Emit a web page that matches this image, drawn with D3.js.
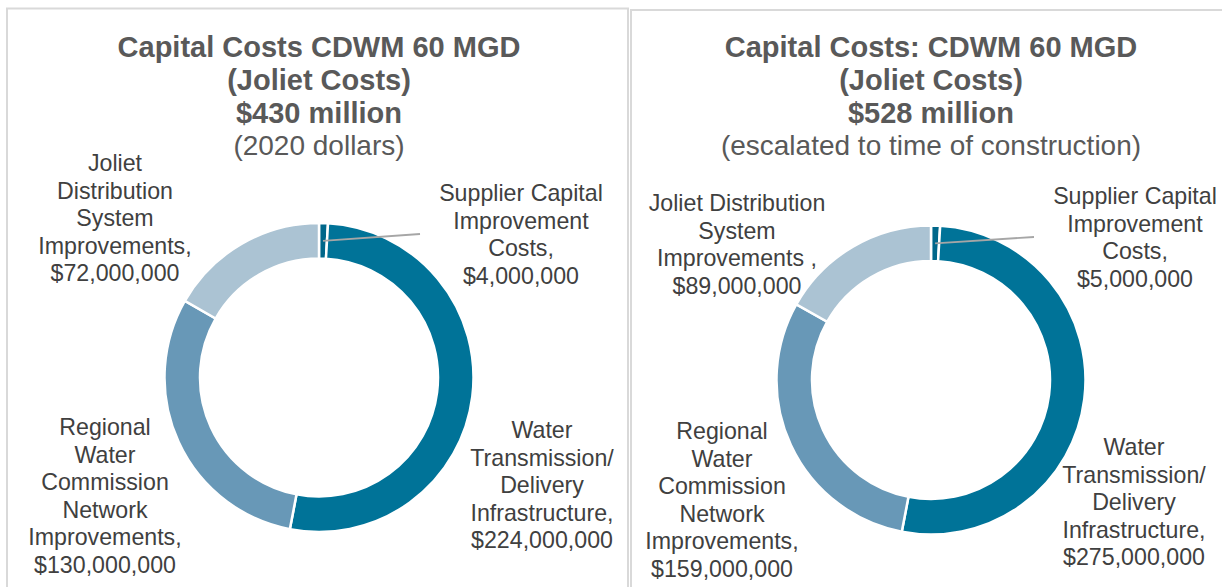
<!DOCTYPE html>
<html>
<head>
<meta charset="utf-8">
<script src="https://cdn.jsdelivr.net/npm/d3@7"></script>
<style>
  body { margin: 0; background: #fff; }
  svg { display: block; font-family: Arial, "Liberation Sans", sans-serif; }
</style>
</head>
<body>
<div id="chart"></div>
<script>
// categories, in pie order starting at 12 o'clock
var categories = ["Supplier", "Water", "Regional", "Joliet"];
var costs2020 = [4000000, 224000000, 130000000, 72000000];
var costsEscalated = [5000000, 275000000, 159000000, 89000000];

var titles2020 = ["Capital Costs CDWM 60 MGD", "(Joliet Costs)", "$430 million", "(2020 dollars)"];
var titlesEscalated = ["Capital Costs: CDWM 60 MGD", "(Joliet Costs)", "$528 million", "(escalated to time of construction)"];

var labels2020 = [
    ["Supplier Capital", "Improvement", "Costs,", "$4,000,000"],
    ["Water", "Transmission/", "Delivery", "Infrastructure,", "$224,000,000"],
    ["Regional", "Water", "Commission", "Network", "Improvements,", "$130,000,000"],
    ["Joliet", "Distribution", "System", "Improvements,", "$72,000,000"]
];
var labelsEscalated = [
    ["Supplier Capital", "Improvement", "Costs,", "$5,000,000"],
    ["Water", "Transmission/", "Delivery", "Infrastructure,", "$275,000,000"],
    ["Regional", "Water", "Commission", "Network", "Improvements,", "$159,000,000"],
    ["Joliet Distribution", "System", "Improvements ,", "$89,000,000"]
];

var colors = {Supplier: "#00678a", Water: "#007398", Regional: "#6898b7", Joliet: "#abc3d3"};

var width = 1222, height = 587;
var svg = d3.select("#chart").append("svg")
    .attr("width", width)
    .attr("height", height);

// panel frames
svg.append("rect").attr("x", 7).attr("y", 8.5).attr("width", 621).attr("height", 600)
    .attr("fill", "none").attr("stroke", "#d9d9d9").attr("stroke-width", 2);
svg.append("rect").attr("x", 631).attr("y", 10).attr("width", 600).attr("height", 600)
    .attr("fill", "none").attr("stroke", "#d9d9d9").attr("stroke-width", 2);

var panels = [
    {values: costs2020, titles: titles2020, labels: labels2020, cx: 319, cy: 377.5,
     labelPos: [[521, 193], [542, 430], [105, 427], [115, 163]], leaderEnd: [420, 234]},
    {values: costsEscalated, titles: titlesEscalated, labels: labelsEscalated, cx: 931, cy: 380,
     labelPos: [[1135, 196], [1134, 447], [722, 431], [737, 203]], leaderEnd: [1034, 237]}
];

var outerR = 154.5, innerR = 119;
var pie = d3.pie().sort(null).value(function(d) { return d.value; });
var arc = d3.arc().innerRadius(innerR).outerRadius(outerR);
var lineH = 27.6;

panels.forEach(function(p) {
    var data = categories.map(function(c, i) { return {key: c, value: p.values[i]}; });
    var arcs = pie(data);

    var g = svg.append("g").attr("transform", "translate(" + p.cx + "," + p.cy + ")");
    g.selectAll("path").data(arcs).enter().append("path")
        .attr("d", arc)
        .attr("fill", function(d) { return colors[d.data.key]; })
        .attr("stroke", "#fff")
        .attr("stroke-width", 2.5);

    // title block
    var t = svg.append("text")
        .attr("text-anchor", "middle")
        .attr("fill", "#595959");
    p.titles.forEach(function(line, i) {
        t.append("tspan")
            .attr("x", p.cx)
            .attr("y", 57 + i * 32.8)
            .style("font-size", i < 3 ? "29px" : "28px")
            .style("font-weight", i < 3 ? "bold" : "normal")
            .text(line);
    });

    // leader line for the thin supplier slice
    var a0 = arcs[0];
    var mid = (a0.startAngle + a0.endAngle) / 2, rm = (innerR + outerR) / 2;
    svg.append("line")
        .attr("x1", p.cx + rm * Math.sin(mid))
        .attr("y1", p.cy - rm * Math.cos(mid))
        .attr("x2", p.leaderEnd[0])
        .attr("y2", p.leaderEnd[1])
        .attr("stroke", "#a6a6a6")
        .attr("stroke-width", 1.8);

    // slice labels
    p.labels.forEach(function(lines, k) {
        var lt = svg.append("text")
            .attr("text-anchor", "middle")
            .attr("fill", "#404040")
            .style("font-size", "23.2px");
        lines.forEach(function(line, i) {
            lt.append("tspan")
                .attr("x", p.labelPos[k][0])
                .attr("y", p.labelPos[k][1] + i * lineH + 8)
                .text(line);
        });
    });
});
</script>
</body>
</html>
